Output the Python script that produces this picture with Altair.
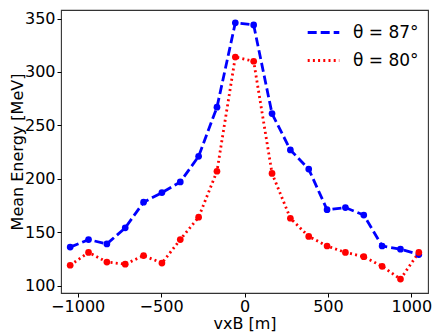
import altair as alt
import pandas as pd

x_pos = [-1045, -935, -825, -715, -605, -495, -385, -275, -165, -55,
         55, 165, 275, 385, 495, 605, 715, 825, 935, 1045]
energy_87 = [136, 143, 139, 154, 178, 187, 197, 221, 267, 346,
             344, 261, 227, 209, 171, 173, 166, 137, 134, 129]
energy_80 = [119, 131, 122, 120, 128, 121, 143, 164, 207, 314,
             310, 205, 163, 146, 137, 131, 127, 118, 106, 131]
labels = ["θ = 87°", "θ = 80°"]
colors = ["#0000ff", "#ff0000"]
dashes = [[9, 4], [2, 3.2]]
x_ticks = [-1000, -500, 0, 500, 1000]
y_ticks = [100, 150, 200, 250, 300, 350]

rows = []
for x, a, b in zip(x_pos, energy_87, energy_80):
    rows.append({"x": x, "E": a, "s": labels[0]})
    rows.append({"x": x, "E": b, "s": labels[1]})
df = pd.DataFrame(rows)

FONT = "DejaVu Sans"
FS = 16


def legend():
    return alt.Legend(title=None, orient="none", legendX=245, legendY=5,
                      symbolType="stroke", symbolSize=1000,
                      symbolStrokeWidth=2.8, labelFontSize=17,
                      labelFont=FONT, rowPadding=2, labelOffset=12)


base = alt.Chart(df).encode(
    x=alt.X("x:Q", scale=alt.Scale(domain=[-1100, 1100], nice=False, zero=False),
            axis=alt.Axis(values=x_ticks, title="vxB [m]", format="d")),
    y=alt.Y("E:Q", scale=alt.Scale(domain=[93, 358], nice=False, zero=False),
            axis=alt.Axis(values=y_ticks, title="Mean Energy [MeV]", format="d")),
    color=alt.Color("s:N", scale=alt.Scale(domain=labels, range=colors), legend=legend()),
)

line = base.mark_line(strokeWidth=2.8).encode(
    strokeDash=alt.StrokeDash("s:N", scale=alt.Scale(domain=labels, range=dashes),
                              legend=legend())
)
points = base.mark_point(filled=True, size=45, opacity=1, shape="circle")

chart = (line + points).properties(
    width=367, height=283,
    autosize=alt.AutoSizeParams(type="none"),
    padding={"left": 53, "top": 2, "right": 7, "bottom": 40},
).configure_view(
    stroke="#333333", strokeWidth=1.1
).configure_axis(
    grid=False, domain=False, tickColor="#000000", tickSize=4, tickWidth=1,
    labelFont=FONT, labelFontSize=FS, labelColor="#000000", labelPadding=2,
    titleFont=FONT, titleFontSize=FS, titleFontWeight="normal", titleColor="#000000",
).configure_axisX(labelPadding=1, titlePadding=1).configure_axisY(titlePadding=-1)

chart.save("out.html", embed_options={"renderer": "svg", "actions": False})
